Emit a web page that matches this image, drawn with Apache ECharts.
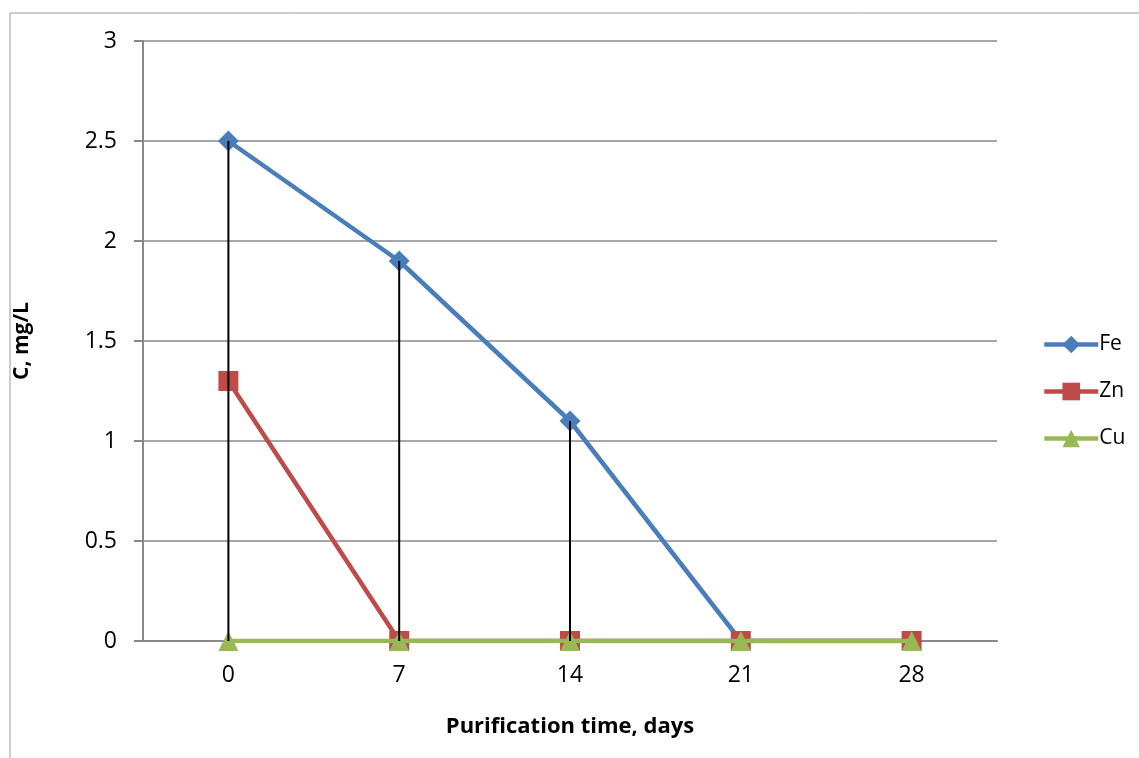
<!DOCTYPE html>
<html>
<head>
<meta charset="utf-8">
<script src="https://cdn.jsdelivr.net/npm/echarts@6/dist/echarts.min.js"></script>
<style>
html,body{margin:0;padding:0;background:#fff;}
#chart{width:1139px;height:758px;}
</style>
</head>
<body>
<div id="chart"></div>
<script>
const categories = ['0', '7', '14', '21', '28'];
const fe = [2.5, 1.9, 1.1, 0, 0];
const zn = [1.3, 0, 0, 0, 0];
const cu = [0, 0, 0, 0, 0];
const yTicks = [0, 0.5, 1, 1.5, 2, 2.5, 3];

const FONT = 'Open Sans';
const chart = echarts.init(document.getElementById('chart'), null, {renderer: 'canvas'});
chart.setOption({
  backgroundColor: '#fff',
  animation: false,
  graphic: [{
    type: 'rect',
    shape: {x: 10, y: 13, width: 1200, height: 800},
    style: {fill: 'none', stroke: '#9a9a9a', lineWidth: 1},
    silent: true
  }],
  grid: {left: 143, right: 142, top: 41, bottom: 117, containLabel: false},
  legend: {
    orient: 'vertical',
    left: 1037,
    top: 329,
    itemWidth: 54,
    itemHeight: 22,
    itemGap: 26,
    data: ['Fe', 'Zn', 'Cu'],
    lineStyle: {width: 4.5},
    textStyle: {fontFamily: FONT, fontSize: 21, color: '#000', padding: [0, 0, 0, -4]}
  },
  xAxis: {
    type: 'category',
    data: categories,
    boundaryGap: true,
    name: 'Purification time, days',
    nameLocation: 'middle',
    nameGap: 75,
    nameTextStyle: {fontFamily: FONT, fontSize: 22, fontWeight: 'bold', color: '#000'},
    axisLine: {show: true, lineStyle: {color: '#888', width: 2}},
    axisTick: {show: false},
    axisLabel: {fontFamily: FONT, fontSize: 23, color: '#000', margin: 23},
    splitLine: {show: false}
  },
  yAxis: {
    type: 'value',
    min: 0,
    max: 3,
    interval: 0.5,
    name: 'C, mg/L',
    nameLocation: 'middle',
    nameGap: 110,
    nameTextStyle: {fontFamily: FONT, fontSize: 21, fontWeight: 'bold', color: '#000'},
    axisLine: {show: true, lineStyle: {color: '#888', width: 2}},
    axisTick: {show: true, inside: false, length: 9, lineStyle: {color: '#888', width: 2}},
    axisLabel: {
      fontFamily: FONT, fontSize: 23, color: '#000', margin: 26,
      formatter: v => (yTicks.indexOf(v) >= 0 ? String(v) : '')
    },
    splitLine: {show: true, lineStyle: {color: '#888', width: 1.5}}
  },
  series: [
    {
      name: 'Fe', type: 'line', data: fe,
      symbol: 'diamond', symbolSize: 21,
      itemStyle: {color: '#4a7ebb'},
      lineStyle: {color: '#4a7ebb', width: 4.5},
      z: 2
    },
    {
      name: 'Zn', type: 'line', data: zn,
      symbol: 'rect', symbolSize: 20,
      itemStyle: {color: '#be4b48'},
      lineStyle: {color: '#be4b48', width: 4.5},
      z: 3
    },
    {
      name: 'Cu', type: 'line', data: cu,
      symbol: 'triangle', symbolSize: 20,
      itemStyle: {color: '#98b954'},
      lineStyle: {color: '#98b954', width: 4.5},
      z: 4
    },
    {
      name: 'drop', type: 'bar', data: fe,
      barWidth: 2,
      itemStyle: {color: '#000'},
      silent: true,
      z: 5
    }
  ]
});
</script>
</body>
</html>
